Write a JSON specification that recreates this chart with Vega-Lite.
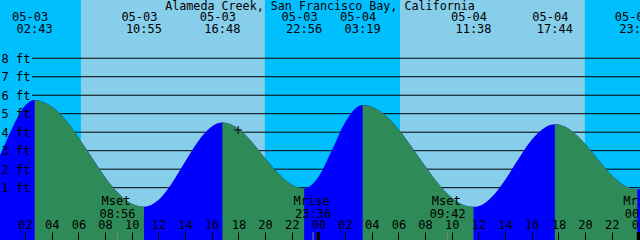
{
  "$schema": "https://vega.github.io/schema/vega-lite/v6.json",
  "width": 640,
  "height": 240,
  "padding": 0,
  "autosize": {"type": "none"},
  "background": "#00BFFF",
  "config": {
    "view": {"stroke": null},
    "font": "DejaVu Sans Mono",
    "axis": {"labelOverlap": false, "labelFlush": false, "labelBound": false},
    "title": {"font": "DejaVu Sans Mono", "fontSize": 11.7, "fontWeight": "normal", "color": "black"}
  },
  "title": {"text": "Alameda Creek, San Francisco Bay, California", "anchor": "middle", "frame": "group", "baseline": "alphabetic", "offset": 0, "dy": 21.5, "zindex": 1},
  "datasets": {
    "sky": [
      {"start": 0, "end": 6.19, "kind": "night"},
      {"start": 6.19, "end": 19.99, "kind": "day"},
      {"start": 19.99, "end": 30.12, "kind": "night"},
      {"start": 30.12, "end": 43.99, "kind": "day"},
      {"start": 43.99, "end": 48.3, "kind": "night"}
    ],
    "levels": [{"ft": 1}, {"ft": 2}, {"ft": 3}, {"ft": 4}, {"ft": 5}, {"ft": 6}, {"ft": 7}, {"ft": 8}],
    "tide": [
      {"t": 0, "h": 2.57, "seg": 0, "phase": "rising"},
      {"t": 0.5, "h": 3.38, "seg": 0, "phase": "rising"},
      {"t": 1, "h": 4.18, "seg": 0, "phase": "rising"},
      {"t": 1.5, "h": 4.89, "seg": 0, "phase": "rising"},
      {"t": 2, "h": 5.44, "seg": 0, "phase": "rising"},
      {"t": 2.717, "h": 5.74, "seg": 0, "phase": "rising"},
      {"t": 2.717, "h": 5.74, "seg": 1, "phase": "falling"},
      {"t": 3, "h": 5.72, "seg": 1, "phase": "falling"},
      {"t": 4, "h": 5.39, "seg": 1, "phase": "falling"},
      {"t": 5, "h": 4.7, "seg": 1, "phase": "falling"},
      {"t": 6, "h": 3.73, "seg": 1, "phase": "falling"},
      {"t": 7, "h": 2.64, "seg": 1, "phase": "falling"},
      {"t": 8, "h": 1.57, "seg": 1, "phase": "falling"},
      {"t": 9, "h": 0.7, "seg": 1, "phase": "falling"},
      {"t": 10, "h": 0.13, "seg": 1, "phase": "falling"},
      {"t": 10.917, "h": -0.03, "seg": 1, "phase": "falling"},
      {"t": 10.917, "h": -0.03, "seg": 2, "phase": "rising"},
      {"t": 12, "h": 0.33, "seg": 2, "phase": "rising"},
      {"t": 13, "h": 1.23, "seg": 2, "phase": "rising"},
      {"t": 14, "h": 2.4, "seg": 2, "phase": "rising"},
      {"t": 15, "h": 3.53, "seg": 2, "phase": "rising"},
      {"t": 16, "h": 4.31, "seg": 2, "phase": "rising"},
      {"t": 16.8, "h": 4.52, "seg": 2, "phase": "rising"},
      {"t": 16.8, "h": 4.52, "seg": 3, "phase": "falling"},
      {"t": 17, "h": 4.51, "seg": 3, "phase": "falling"},
      {"t": 18, "h": 4.19, "seg": 3, "phase": "falling"},
      {"t": 19, "h": 3.49, "seg": 3, "phase": "falling"},
      {"t": 20, "h": 2.6, "seg": 3, "phase": "falling"},
      {"t": 21, "h": 1.76, "seg": 3, "phase": "falling"},
      {"t": 22, "h": 1.16, "seg": 3, "phase": "falling"},
      {"t": 22.933, "h": 0.96, "seg": 3, "phase": "falling"},
      {"t": 22.933, "h": 0.96, "seg": 4, "phase": "rising"},
      {"t": 24, "h": 1.58, "seg": 4, "phase": "rising"},
      {"t": 25, "h": 3.01, "seg": 4, "phase": "rising"},
      {"t": 26, "h": 4.53, "seg": 4, "phase": "rising"},
      {"t": 27, "h": 5.41, "seg": 4, "phase": "rising"},
      {"t": 27.317, "h": 5.47, "seg": 4, "phase": "rising"},
      {"t": 27.317, "h": 5.47, "seg": 5, "phase": "falling"},
      {"t": 28, "h": 5.38, "seg": 5, "phase": "falling"},
      {"t": 29, "h": 4.93, "seg": 5, "phase": "falling"},
      {"t": 30, "h": 4.17, "seg": 5, "phase": "falling"},
      {"t": 31, "h": 3.2, "seg": 5, "phase": "falling"},
      {"t": 32, "h": 2.17, "seg": 5, "phase": "falling"},
      {"t": 33, "h": 1.21, "seg": 5, "phase": "falling"},
      {"t": 34, "h": 0.46, "seg": 5, "phase": "falling"},
      {"t": 35, "h": 0.04, "seg": 5, "phase": "falling"},
      {"t": 35.633, "h": -0.03, "seg": 5, "phase": "falling"},
      {"t": 35.633, "h": -0.03, "seg": 6, "phase": "rising"},
      {"t": 36, "h": 0.0, "seg": 6, "phase": "rising"},
      {"t": 37, "h": 0.5, "seg": 6, "phase": "rising"},
      {"t": 38, "h": 1.42, "seg": 6, "phase": "rising"},
      {"t": 39, "h": 2.55, "seg": 6, "phase": "rising"},
      {"t": 40, "h": 3.59, "seg": 6, "phase": "rising"},
      {"t": 41, "h": 4.26, "seg": 6, "phase": "rising"},
      {"t": 41.733, "h": 4.43, "seg": 6, "phase": "rising"},
      {"t": 41.733, "h": 4.43, "seg": 7, "phase": "falling"},
      {"t": 42, "h": 4.41, "seg": 7, "phase": "falling"},
      {"t": 43, "h": 4.07, "seg": 7, "phase": "falling"},
      {"t": 44, "h": 3.38, "seg": 7, "phase": "falling"},
      {"t": 45, "h": 2.5, "seg": 7, "phase": "falling"},
      {"t": 46, "h": 1.67, "seg": 7, "phase": "falling"},
      {"t": 47, "h": 1.09, "seg": 7, "phase": "falling"},
      {"t": 47.92, "h": 0.91, "seg": 7, "phase": "falling"},
      {"t": 47.92, "h": 0.91, "seg": 8, "phase": "rising"},
      {"t": 48.3, "h": 0.95, "seg": 8, "phase": "rising"}
    ],
    "events": [
      {"t": 2.717, "date": "05-03", "time": "02:43"},
      {"t": 10.917, "date": "05-03", "time": "10:55"},
      {"t": 16.8, "date": "05-03", "time": "16:48"},
      {"t": 22.933, "date": "05-03", "time": "22:56"},
      {"t": 27.317, "date": "05-04", "time": "03:19"},
      {"t": 35.633, "date": "05-04", "time": "11:38"},
      {"t": 41.733, "date": "05-04", "time": "17:44"},
      {"t": 47.92, "date": "05-04", "time": "23:55"}
    ],
    "moon": [
      {"t": 8.933, "name": "Mset", "time": "08:56"},
      {"t": 23.6, "name": "Mrise", "time": "23:36"},
      {"t": 33.7, "name": "Mset", "time": "09:42"},
      {"t": 48.34, "name": "Mrise", "time": "00:20"}
    ],
    "days": [{"t": 24}, {"t": 48}],
    "now": [{"t": 17.98, "h": 4.12}]
  },
  "layer": [
    {
      "data": {"name": "sky"},
      "mark": {"type": "rect", "clip": true},
      "encoding": {
        "x": {"field": "start", "type": "quantitative",
          "scale": {"domain": [0.12, 48.12], "nice": false, "zero": false},
          "axis": {"orient": "top", "offset": -240, "zindex": 1, "title": null, "domain": false, "grid": false,
            "values": [0, 2, 4, 6, 8, 10, 12, 14, 16, 18, 20, 22, 24, 26, 28, 30, 32, 34, 36, 38, 40, 42, 44, 46, 48],
            "tickCount": 100,
            "labelExpr": "(datum.value % 24 < 10 ? '0' : '') + (datum.value % 24)",
            "tickSize": 8, "tickColor": "black", "tickWidth": 1, "labelPadding": 1,
            "labelFont": "DejaVu Sans Mono", "labelFontSize": 12, "labelColor": "black",
            "labelFlush": false, "labelOverlap": false, "labelBound": false}},
        "x2": {"field": "end"},
        "fill": {"field": "kind", "type": "nominal", "scale": {"domain": ["night", "day"], "range": ["#00BFFF", "#87CEEB"]}, "legend": null}
      }
    },
    {
      "data": {"name": "levels"},
      "mark": {"type": "rule", "color": "black", "strokeWidth": 1},
      "encoding": {
        "y": {"field": "ft", "type": "quantitative",
          "scale": {"domain": [-1.83, 11.15], "nice": false, "zero": false},
          "axis": {"orient": "left", "zindex": 1, "title": null, "domain": false, "grid": false, "ticks": false, "tickSize": 0,
            "values": [1, 2, 3, 4, 5, 6, 7, 8], "tickCount": 100, "labelExpr": "datum.value + ' ft'",
            "labelAlign": "left", "labelPadding": -1, "labelBaseline": "middle",
            "labelFont": "DejaVu Sans Mono", "labelFontSize": 12, "labelColor": "black",
            "labelFlush": false, "labelOverlap": false, "labelBound": false}},
        "x": {"datum": 2.52},
        "x2": {"datum": 48.12}
      }
    },
    {
      "data": {"name": "tide"},
      "mark": {"type": "area", "interpolate": "monotone", "color": "#0000FF", "clip": true},
      "encoding": {
        "x": {"field": "t", "type": "quantitative"},
        "y": {"field": "h", "type": "quantitative"},
        "y2": {"datum": -1.83}
      }
    },
    {
      "data": {"name": "tide"},
      "transform": [{"filter": "datum.phase == 'falling'"}],
      "mark": {"type": "area", "interpolate": "monotone", "color": "#2E8B57", "clip": true},
      "encoding": {
        "x": {"field": "t", "type": "quantitative"},
        "y": {"field": "h", "type": "quantitative"},
        "y2": {"datum": -1.83},
        "detail": {"field": "seg", "type": "nominal"}
      }
    },
    {
      "mark": {"type": "rule", "color": "#87CEEB", "strokeWidth": 1},
      "encoding": {"y": {"datum": 0}, "x": {"datum": 2.52}, "x2": {"datum": 48.12}}
    },
    {
      "mark": {"type": "rule", "color": "#FFFF00", "strokeWidth": 1},
      "encoding": {"y": {"datum": 4.65}, "x": {"datum": 2.52}, "x2": {"datum": 48.12}}
    },
    {
      "data": {"name": "moon"},
      "mark": {"type": "rule", "color": "#808080", "strokeWidth": 1, "clip": true},
      "encoding": {"x": {"field": "t", "type": "quantitative"}, "y": {"datum": -1.83}, "y2": {"datum": -1.4}}
    },
    {
      "data": {"name": "days"},
      "mark": {"type": "rule", "color": "black", "strokeWidth": 3.3, "clip": true},
      "encoding": {"x": {"field": "t", "type": "quantitative"}, "y": {"datum": -1.83}, "y2": {"datum": -1.4}}
    },
    {
      "data": {"name": "now"},
      "mark": {"type": "point", "shape": "M-1,0H1M0,-1V1", "filled": false, "stroke": "black", "strokeWidth": 1, "size": 64, "opacity": 1},
      "encoding": {"x": {"field": "t", "type": "quantitative"}, "y": {"field": "h", "type": "quantitative"}}
    },
    {
      "data": {"name": "events"},
      "mark": {"type": "text", "font": "DejaVu Sans Mono", "fontSize": 12, "color": "black", "align": "center", "baseline": "alphabetic", "dx": -4.5},
      "encoding": {"x": {"field": "t", "type": "quantitative"}, "y": {"datum": 10.02}, "text": {"field": "date"}}
    },
    {
      "data": {"name": "events"},
      "mark": {"type": "text", "font": "DejaVu Sans Mono", "fontSize": 12, "color": "black", "align": "center", "baseline": "alphabetic"},
      "encoding": {"x": {"field": "t", "type": "quantitative"}, "y": {"datum": 9.34}, "text": {"field": "time"}}
    },
    {
      "data": {"name": "moon"},
      "mark": {"type": "text", "font": "DejaVu Sans Mono", "fontSize": 12, "color": "black", "align": "center", "baseline": "alphabetic", "dx": -1.5},
      "encoding": {"x": {"field": "t", "type": "quantitative"}, "y": {"datum": 0.04}, "text": {"field": "name"}}
    },
    {
      "data": {"name": "moon"},
      "mark": {"type": "text", "font": "DejaVu Sans Mono", "fontSize": 12, "color": "black", "align": "center", "baseline": "alphabetic"},
      "encoding": {"x": {"field": "t", "type": "quantitative"}, "y": {"datum": -0.64}, "text": {"field": "time"}}
    }
  ]
}
